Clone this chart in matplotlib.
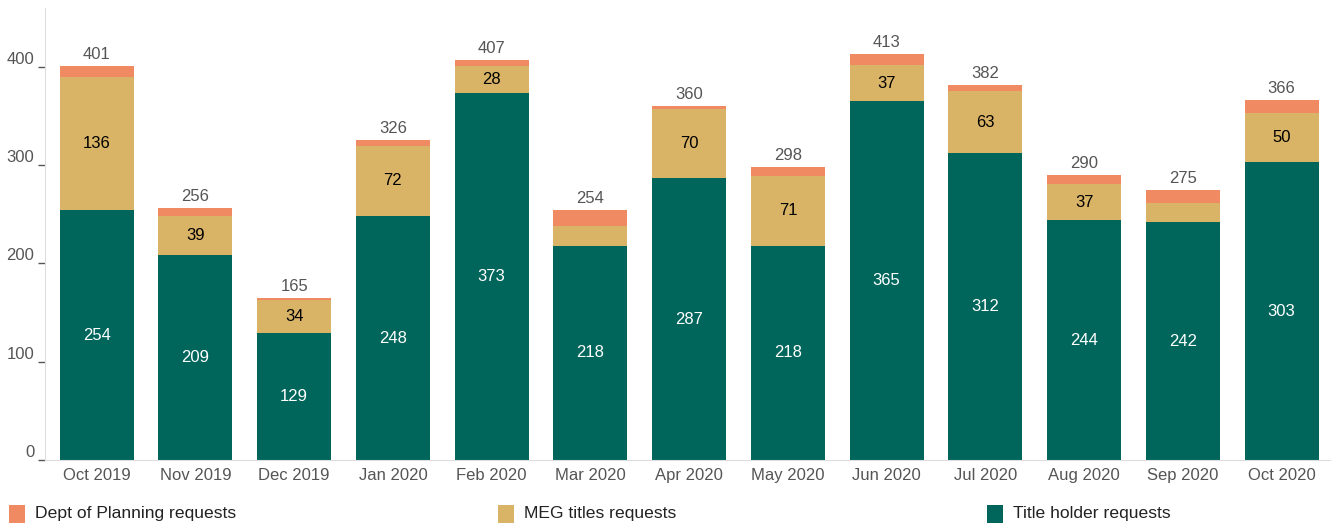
import matplotlib

matplotlib.use("Agg")
import matplotlib.pyplot as plt
from matplotlib.patches import Rectangle

months = ["Oct 2019", "Nov 2019", "Dec 2019", "Jan 2020", "Feb 2020", "Mar 2020", "Apr 2020",
          "May 2020", "Jun 2020", "Jul 2020", "Aug 2020", "Sep 2020", "Oct 2020"]
title_holder = [254, 209, 129, 248, 373, 218, 287, 218, 365, 312, 244, 242, 303]
meg_titles = [136, 39, 34, 72, 28, 20, 70, 71, 37, 63, 37, 20, 50]
dept_planning = [11, 8, 2, 6, 6, 16, 3, 9, 11, 7, 9, 13, 13]
totals = [401, 256, 165, 326, 407, 254, 360, 298, 413, 382, 290, 275, 366]

C_TEAL = "#00665c"
C_TAN = "#d9b366"
C_ORANGE = "#f08a62"
GREY = "#555555"

plt.rcParams["font.family"] = ["Liberation Sans", "DejaVu Sans"]

fig = plt.figure(figsize=(13.34, 5.27), dpi=100)
ax = fig.add_axes([0.034, 0.127, 0.963, 0.858])

x = list(range(len(months)))
w = 0.75
ax.bar(x, title_holder, width=w, color=C_TEAL)
ax.bar(x, meg_titles, width=w, bottom=title_holder, color=C_TAN)
bottom2 = [a + b for a, b in zip(title_holder, meg_titles)]
ax.bar(x, dept_planning, width=w, bottom=bottom2, color=C_ORANGE)

# segment labels (small MEG segments are left unlabelled, as in the source)
for i in x:
    ax.text(i, title_holder[i] / 2, str(title_holder[i]), ha="center", va="center",
            color="white", fontsize=12)
    if meg_titles[i] >= 25:
        ax.text(i, title_holder[i] + meg_titles[i] / 2, str(meg_titles[i]), ha="center",
                va="center", color="black", fontsize=12)
    ax.text(i, totals[i] + 4, str(totals[i]), ha="center", va="bottom", color=GREY, fontsize=12)

ax.set_xlim(-0.52, 12.49)
ax.set_ylim(0, 460)
ax.set_yticks([0, 100, 200, 300, 400])
ax.set_xticks(x)
ax.set_xticklabels(months)
ax.tick_params(axis="y", colors=GREY, labelsize=12, length=5, width=1, pad=3)
ax.tick_params(axis="x", colors=GREY, labelsize=12, length=0, pad=6)
for lab in ax.get_yticklabels():
    lab.set_verticalalignment("bottom")
for s in ("top", "right"):
    ax.spines[s].set_visible(False)
for s in ("left", "bottom"):
    ax.spines[s].set_color("#dddddd")

legend_items = [("Dept of Planning requests", C_ORANGE, 0.007),
                ("MEG titles requests", C_TAN, 0.373),
                ("Title holder requests", C_TEAL, 0.740)]
for label, col, lx in legend_items:
    fig.patches.append(Rectangle((lx, 0.008), 0.012, 0.034, transform=fig.transFigure,
                                 facecolor=col, edgecolor="none"))
    fig.text(lx + 0.0195, 0.025, label, ha="left", va="center", fontsize=12.6, color="#222222")

fig.savefig("out.png", dpi=100)
